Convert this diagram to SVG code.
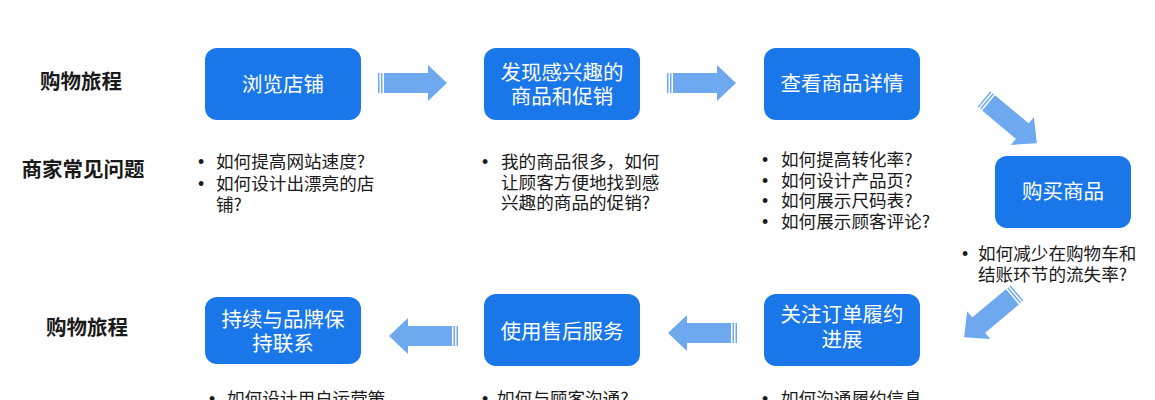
<svg xmlns="http://www.w3.org/2000/svg" width="1155" height="400" viewBox="0 0 1155 400">
<style>
.box{fill:#1a77e9;}
.bt{font-family:"Noto Sans CJK SC","Noto Sans",sans-serif;font-size:20.5px;fill:#ffffff;text-anchor:middle;}
.lbl{font-family:"Noto Sans CJK SC","Noto Sans",sans-serif;font-size:20.5px;font-weight:bold;fill:#1a1a1a;text-anchor:middle;}
.q{font-family:"Noto Sans CJK SC","Noto Sans",sans-serif;font-size:17.6px;fill:#1a1a1a;}
.b{font-family:"Liberation Sans","Noto Sans",sans-serif;font-size:17.6px;fill:#1a1a1a;}
.arr{fill:#6ea9ef;}
</style>
<defs>
<g id="arrow">
<rect x="0" y="-10" width="1.5" height="20"/>
<rect x="3" y="-10" width="1.5" height="20"/>
<rect x="6" y="-10" width="45" height="20"/>
<polygon points="50,-18 69,0 50,18"/>
</g>
</defs>
<rect width="1155" height="400" fill="#ffffff"/>
<g id="labels">
<text class="lbl" x="81" y="89">购物旅程</text>
<text class="lbl" x="83" y="177">商家常见问题</text>
<text class="lbl" x="87" y="335">购物旅程</text>
</g>
<g id="node-browse">
<rect class="box" x="205" y="48" width="156" height="72" rx="12"/>
<text class="bt" x="283" y="92">浏览店铺</text>
<text class="b" x="198" y="168">•</text>
<text class="q" x="216" y="168">如何提高网站速度?</text>
<text class="b" x="198" y="190">•</text>
<text class="q" x="216" y="190">如何设计出漂亮的店</text>
<text class="q" x="216" y="211">铺?</text>
</g>
<g id="node-discover">
<rect class="box" x="484" y="48" width="156" height="72" rx="12"/>
<text class="bt" x="562" y="80">发现感兴趣的</text>
<text class="bt" x="562" y="104">商品和促销</text>
<text class="b" x="482" y="168">•</text>
<text class="q" x="501" y="168">我的商品很多，如何</text>
<text class="q" x="501" y="188.5">让顾客方便地找到感</text>
<text class="q" x="501" y="209">兴趣的商品的促销?</text>
</g>
<g id="node-detail">
<rect class="box" x="764" y="48" width="156" height="72" rx="12"/>
<text class="bt" x="842" y="91">查看商品详情</text>
<text class="b" x="762" y="166">•</text>
<text class="q" x="781" y="166">如何提高转化率?</text>
<text class="b" x="762" y="186.5">•</text>
<text class="q" x="781" y="186.5">如何设计产品页?</text>
<text class="b" x="762" y="207">•</text>
<text class="q" x="781" y="207">如何展示尺码表?</text>
<text class="b" x="762" y="227.5">•</text>
<text class="q" x="781" y="227.5">如何展示顾客评论?</text>
</g>
<g id="node-buy">
<rect class="box" x="995" y="156" width="136" height="72" rx="12"/>
<text class="bt" x="1063" y="199">购买商品</text>
<text class="b" x="962" y="260">•</text>
<text class="q" x="978" y="260">如何减少在购物车和</text>
<text class="q" x="978" y="281">结账环节的流失率?</text>
</g>
<g id="node-fulfil">
<rect class="box" x="764" y="294" width="156" height="72" rx="12"/>
<text class="bt" x="842" y="322">关注订单履约</text>
<text class="bt" x="842" y="347">进展</text>
<text class="b" x="762" y="405">•</text>
<text class="q" x="781" y="405">如何沟通履约信息</text>
</g>
<g id="node-aftersale">
<rect class="box" x="484" y="294" width="156" height="72" rx="12"/>
<text class="bt" x="562" y="339">使用售后服务</text>
<text class="b" x="482" y="405">•</text>
<text class="q" x="497" y="405">如何与顾客沟通?</text>
</g>
<g id="node-loyalty">
<rect class="box" x="205" y="297" width="156" height="67" rx="12"/>
<text class="bt" x="283" y="327">持续与品牌保</text>
<text class="bt" x="283" y="351">持联系</text>
<text class="b" x="209" y="405">•</text>
<text class="q" x="227" y="405">如何设计用户运营策</text>
</g>
<g id="connectors" class="arr">
<use href="#arrow" transform="translate(378,83)"/>
<use href="#arrow" transform="translate(667,83)"/>
<use href="#arrow" transform="translate(984,99) rotate(40)"/>
<use href="#arrow" transform="translate(1017,293) rotate(140)"/>
<use href="#arrow" transform="translate(737,333) rotate(180)"/>
<use href="#arrow" transform="translate(458,336) rotate(180)"/>
</g>
</svg>
